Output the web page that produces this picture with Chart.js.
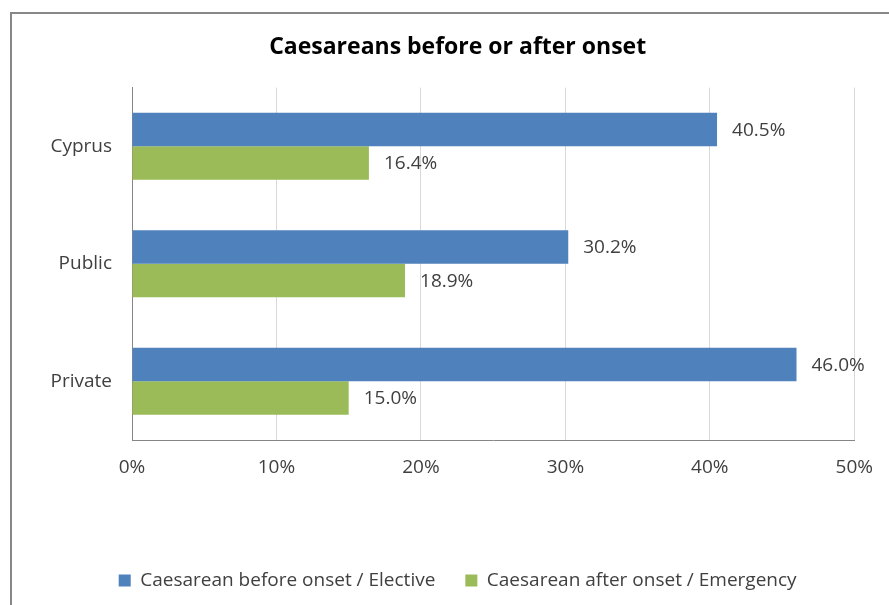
<!DOCTYPE html>
<html>
<head>
<meta charset="utf-8">
<script src="https://cdn.jsdelivr.net/npm/chart.js@4"></script>
<style>
    html, body { margin: 0; padding: 0; background: #fff; overflow: hidden; }
    #wrap { position: relative; width: 889px; height: 605px; }
    #frame { position: absolute; left: 10px; top: 12px; width: 900px; height: 620px; border: 2px solid #878787; pointer-events: none; }
</style>
</head>
<body>
<div id="wrap">
    <canvas id="chart" width="889" height="605"></canvas>
    <div id="frame"></div>
</div>
<script>
const categories = ['Cyprus', 'Public', 'Private'];
const electiveValues = [40.5, 30.2, 46.0];
const emergencyValues = [16.4, 18.9, 15.0];
const seriesNames = ['Caesarean before onset / Elective', 'Caesarean after onset / Emergency'];
const xTicks = [0, 10, 20, 30, 40, 50];

const fontFamily = '"Open Sans", "Noto Sans", sans-serif';
const textColor = '#404040';

// value labels at the end of each bar
const barLabels = {
    id: 'barLabels',
    afterDatasetsDraw(chart) {
        const ctx = chart.ctx;
        ctx.save();
        ctx.font = '19px ' + fontFamily;
        ctx.fillStyle = textColor;
        ctx.textAlign = 'left';
        ctx.textBaseline = 'middle';
        chart.data.datasets.forEach((ds, i) => {
            chart.getDatasetMeta(i).data.forEach((bar, j) => {
                ctx.fillText(ds.data[j].toFixed(1) + '%', bar.x + 15, bar.y + 1);
            });
        });
        ctx.restore();
    }
};

// title and legend are centred over the whole frame, not only the plot
const centreBlocks = {
    id: 'centreBlocks',
    afterLayout(chart) {
        const right = chart.chartArea.right;
        if (chart.titleBlock) { chart.titleBlock.left = 61; chart.titleBlock.right = right; }
        if (chart.legend) { chart.legend.left = 61; chart.legend.right = right; }
    }
};

new Chart(document.getElementById('chart'), {
    type: 'bar',
    data: {
        labels: categories,
        datasets: [
            { label: seriesNames[0], data: electiveValues, backgroundColor: '#4F81BD' },
            { label: seriesNames[1], data: emergencyValues, backgroundColor: '#9BBB59' }
        ]
    },
    options: {
        indexAxis: 'y',
        responsive: false,
        animation: false,
        layout: { padding: { top: 34, right: 34, bottom: 5, left: 0 } },
        datasets: { bar: { categoryPercentage: 0.57, barPercentage: 1 } },
        scales: {
            x: {
                min: 0,
                max: 50,
                afterBuildTicks(scale) { scale.ticks = xTicks.map(v => ({ value: v })); },
                afterFit(scale) { scale.height = 101; },
                ticks: {
                    padding: 16,
                    color: textColor,
                    font: { family: fontFamily, size: 19 },
                    callback: v => v + '%'
                },
                grid: { color: '#d9d9d9', drawTicks: false },
                border: { color: '#868686', width: 1 }
            },
            y: {
                afterFit(scale) { scale.width = 132; },
                ticks: {
                    padding: 20,
                    color: textColor,
                    font: { family: fontFamily, size: 19 }
                },
                grid: { display: false, drawTicks: false },
                border: { color: '#868686', width: 1 }
            }
        },
        plugins: {
            title: {
                display: true,
                text: 'Caesareans before or after onset',
                color: '#000',
                font: { family: fontFamily, size: 23, weight: 'bold' },
                padding: { top: 0, bottom: 26 }
            },
            legend: {
                position: 'bottom',
                labels: {
                    color: textColor,
                    font: { family: fontFamily, size: 19 },
                    boxWidth: 12,
                    boxHeight: 12,
                    padding: 30
                }
            },
            tooltip: { enabled: false }
        }
    },
    plugins: [barLabels, centreBlocks]
});
</script>
</body>
</html>
